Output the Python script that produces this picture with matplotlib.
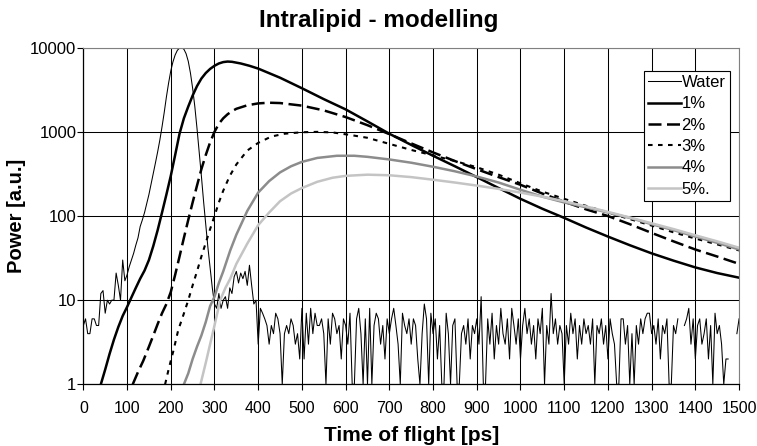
import numpy as np
import matplotlib
matplotlib.use("Agg")
import matplotlib.pyplot as plt
from matplotlib.ticker import FixedLocator, FuncFormatter, NullLocator

plt.rcParams['font.family'] = ['Liberation Sans', 'DejaVu Sans']

# Water reference measurement, one channel every 5 ps (nan = empty channel)
water_t = np.arange(0, 1505, 5)
water = np.array([
  # 0 - 395 ps
  5, 6, 4, 4, 6, 6, 5, 5, 12, 13, 7, 10, 9, 10, 10, 21, 15, 10, 30, 17,
  20, 25, 30, 36, 45, 55, 75, 90, 110, 140, 180, 240, 320, 430, 580, 800, 1150, 1700, 2600, 3800,
  5300, 6800, 8200, 9300, 9900, 10000, 9600, 8500, 6900, 5000, 3300, 2000, 1100, 580, 300, 150, 80, 42, 24, 14,
  9, 8, 12, 8, 10, 11, 8, 14, 12, 19, 22, 16, 21, 18, 22, 15, 26, 15, 9, 10,
  # 400 - 995 ps
  3, 8, 7, 6, 5, 3, 5, 4, 7, 6, 4, 1, 4, 5, 4, 6, 5, 3, 4, 2,
  8, 2, 7, 3, 8, 4, 7, 5, 5, 6, 4, 1, 6, 3, 7, 6, 4, 5, 2, 6,
  5, 3, 7, 1, 1, 6, 8, 4, 1, 6, 1, 8, 1, 5, 7, 6, 3, 5, 2, 6,
  4, 6, 8, 5, 3, 1, 7, 5, 4, 6, 3, 6, 5, 2, 1, 4, 9, 6, 1, 7,
  4, 6, 2, 5, 1, 1, 7, 4, 1, 5, 6, 1, 1, 4, 5, 3, 6, 2, 5, 4,
  6, 3, 11, 1, 1, 6, 3, 7, 2, 5, 3, 8, 4, 3, 6, 2, 8, 5, 3, 6,
  # 1000 - 1500 ps
  2, 5, 8, 4, 6, 3, 5, 2, 6, 4, 8, 1, 5, 3, 12, 4, 6, 3, 5, 4,
  1, 5, 3, 7, 4, 6, 2, 5, 3, 6, 4, 5, 3, 6, 1, 5, 4, 6, 3, 5,
  2, 6, 4, 3, 1, 1, 6, 6, 3, 5, 1, 4, 1, 5, 3, 6, 4, 6, 7, 7,
  4, 5, 3, 6, 2, 5, 4, 6, 1, 1, 5, 4, 6, np.nan, np.nan, 5, 6, 8, 3, 6,
  2, 5, 6, 3, 4, 6, 2, 5, 1, 7, 4, 5, 3, 1, 2, 2, np.nan, np.nan, np.nan, 4,
  6,
], dtype=float)

# Modelled curves for 1 - 5 % intralipid (time [ps], power [a.u.])
t_1 = [40, 50, 60, 70, 80, 90, 100, 110, 120, 130, 140, 150, 160, 170, 180, 190, 200, 210, 220, 230,
       240, 250, 260, 270, 280, 290, 300, 310, 320, 330, 340, 360, 380, 400, 450, 500, 550, 600, 650, 700,
       750, 800, 850, 900, 950, 1000, 1050, 1100, 1150, 1200, 1250, 1300, 1350, 1400, 1450, 1500]
p_1 = [1, 1.5, 2.3, 3.4, 4.8, 6.5, 8.3, 10.8, 14, 18, 22.5, 30, 44, 68, 110, 180, 300, 530, 950, 1450,
       2000, 2700, 3500, 4300, 5000, 5600, 6100, 6500, 6750, 6850, 6800, 6500, 6100, 5650, 4400, 3300, 2450, 1850, 1330, 950,
       700, 520, 390, 290, 215, 160, 122, 95, 73, 57, 45, 36, 29.5, 24.5, 21, 18.5]

t_2 = [113, 125, 137, 150, 160, 170, 180, 190, 200, 210, 220, 230, 240, 250, 260, 270, 280, 290, 300, 310,
       320, 330, 340, 350, 375, 400, 425, 450, 500, 550, 600, 650, 700, 750, 800, 850, 900, 950, 1000, 1050,
       1100, 1150, 1200, 1250, 1300, 1350, 1400, 1450, 1500]
p_2 = [1, 1.4, 1.9, 2.8, 3.8, 5.2, 7, 9, 12.5, 20, 33, 55, 90, 145, 230, 360, 530, 750, 1000, 1250,
       1450, 1620, 1760, 1880, 2070, 2180, 2220, 2200, 2050, 1800, 1500, 1200, 940, 730, 570, 450, 360, 290, 235, 185,
       148, 120, 100, 80, 63, 50, 40, 33, 27]

t_3 = [187, 195, 200, 206, 217, 229, 240, 250, 260, 270, 280, 290, 300, 310, 320, 335, 350, 375, 400, 430,
       460, 500, 535, 570, 610, 650, 700, 750, 800, 850, 900, 950, 1000, 1050, 1100, 1150, 1200, 1250, 1300, 1350,
       1400, 1450, 1500]
p_3 = [1, 1.5, 1.9, 2.5, 4.4, 6.7, 10, 15, 22, 33, 48, 70, 100, 145, 200, 300, 410, 600, 740, 880,
       950, 990, 1000, 985, 920, 850, 720, 610, 525, 450, 380, 310, 245, 195, 160, 132, 110, 92, 77, 64,
       54, 46, 39]

t_4 = [230, 240, 250, 260, 270, 280, 290, 300, 310, 320, 336, 350, 375, 400, 425, 450, 475, 500, 535, 580,
       620, 650, 700, 750, 800, 850, 900, 950, 1000, 1050, 1100, 1150, 1200, 1250, 1300, 1350, 1400, 1450, 1500]
p_4 = [1, 1.35, 2, 2.8, 3.8, 5.5, 8.5, 11, 16, 22, 39, 60, 115, 190, 260, 330, 390, 440, 490, 520,
       520, 505, 470, 430, 385, 340, 295, 250, 205, 170, 145, 127, 110, 95, 80, 68, 57, 48, 40]

t_5 = [268, 280, 290, 300, 313, 325, 336, 350, 375, 400, 425, 450, 475, 500, 535, 570, 600, 650, 700, 750,
       800, 850, 900, 950, 1000, 1050, 1100, 1150, 1200, 1250, 1300, 1350, 1400, 1450, 1500]
p_5 = [1, 1.8, 3, 5, 10, 14, 18, 27, 47, 78, 110, 150, 185, 215, 255, 285, 300, 310, 305, 290,
       270, 250, 230, 210, 190, 170, 150, 130, 112, 96, 82, 70, 59, 50, 42]

fig = plt.figure(figsize=(7.57, 4.46), dpi=100)
ax = fig.add_axes([0.1101, 0.1383, 0.8662, 0.7547])

ax.plot(water_t, water, color="black", lw=0.75, label="Water")
ax.plot(t_1, p_1, color="black", lw=1.8, label="1%")
ax.plot(t_2, p_2, color="black", lw=1.8, dashes=(5.2, 2.2), label="2%")
ax.plot(t_3, p_3, color="black", lw=1.5, dashes=(2.2, 2.6), label="3%")
ax.plot(t_4, p_4, color="#8c8c8c", lw=1.8, label="4%")
ax.plot(t_5, p_5, color="#c4c4c4", lw=1.8, label="5%.")

ax.set_yscale("log")
ax.set_xlim(0, 1500)
ax.set_ylim(1, 10000)
ax.xaxis.set_major_locator(FixedLocator(np.arange(0, 1600, 100)))
ax.yaxis.set_major_locator(FixedLocator([1, 10, 100, 1000, 10000]))
ax.yaxis.set_major_formatter(FuncFormatter(lambda v, pos: "%d" % v))
ax.yaxis.set_minor_locator(NullLocator())
ax.tick_params(axis="both", direction="out", length=4, width=0.8, color="black")
ax.tick_params(axis="x", labelsize=11.5, pad=8)
ax.tick_params(axis="y", labelsize=12, pad=1)

ax.grid(True, which="major", color="black", lw=0.75)
ax.set_axisbelow(True)
for side in ["top", "right"]:
  ax.spines[side].set_color("#808080")
for side in ["left", "bottom"]:
  ax.spines[side].set_color("black")
  ax.spines[side].set_linewidth(0.9)

# Excel-style chart title, centred on the whole figure
fig.text(0.5, 0.953, "Intralipid - modelling", fontsize=17.5, fontweight="bold", ha="center", va="center")
ax.set_xlabel("Time of flight [ps]", fontsize=15, fontweight="bold")
ax.set_ylabel("Power [a.u.]", fontsize=14.5, fontweight="bold")
ax.xaxis.set_label_coords(0.5, -0.125)
ax.yaxis.set_label_coords(-0.087, 0.5)

leg = ax.legend(loc="upper left", bbox_to_anchor=(0.855, 0.931), fontsize=12, frameon=True,
                fancybox=False, framealpha=1, edgecolor="black", handlelength=2.0,
                handletextpad=0.0, borderpad=0.25, labelspacing=0.38, borderaxespad=0)
leg.get_frame().set_linewidth(0.8)

fig.savefig("out.png", dpi=100)
